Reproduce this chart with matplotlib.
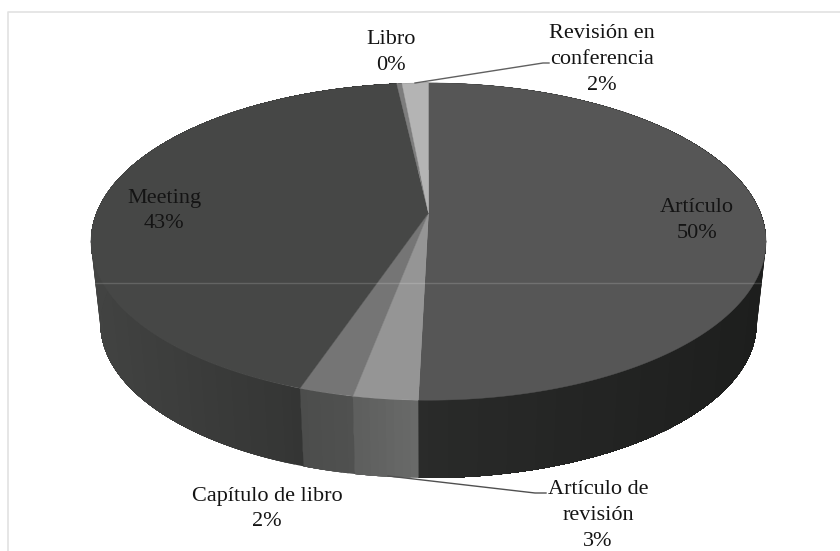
import matplotlib
matplotlib.use("Agg")
import matplotlib.pyplot as plt
import numpy as np

labels = ["Artículo", "Artículo de\nrevisión", "Capítulo de libro", "Meeting", "Libro", "Revisión en\nconferencia"]
values = [50.4, 2.6, 2.2, 43.0, 0.3, 1.5]
shown = ["50%", "3%", "2%", "43%", "0%", "2%"]

top_colors = ["#565656", "#959595", "#757575", "#464746", "#7d7d7d", "#b4b4b4"]
wall_left = ["#2a2b2a", "#5c5d5c", "#4c4d4c", "#424342", "#444444", "#555555"]
wall_right = ["#1d1e1d", "#696a69", "#505150", "#2e2f2e", "#444444", "#555555"]

label_x = [697, 598, 267, 164, 391, 602]
label_y = [220, 515, 509, 211, 53, 60]

# perspective of the pie, in pixels
cx, cy = 428.5, 213
A, B, k = 332, 153.5, 0.18
shrink, depth = 0.972, 83


def project(theta, bottom=False):
    # theta clockwise from the top of the pie
    u = np.sin(theta)
    v = np.cos(theta)
    w = 1 + k * v
    x = A * u / w
    y = B * v / w
    if bottom:
        x = x * shrink
        y = y * shrink - depth
    return cx + x, cy - y


def hex_rgb(c):
    return np.array(matplotlib.colors.to_rgb(c))


fig = plt.figure(figsize=(8.4, 5.51), dpi=100)
ax = fig.add_axes([0, 0, 1, 1])
ax.set_xlim(0, 840)
ax.set_ylim(551, 0)
ax.axis("off")

edges = np.cumsum([0] + values) / np.sum(values) * 2 * np.pi

# outer frame, only left and top show in the scan
ax.plot([7.5, 7.5, 840], [551, 12, 12], color="#e2e2e2", lw=1.2, zorder=1)

# walls: each step is painted from its start to the end of the slice, colour goes with x
for i in range(len(values)):
    cl = hex_rgb(wall_left[i])
    cr = hex_rgb(wall_right[i])
    n = max(8, int((edges[i + 1] - edges[i]) * 40))
    starts = np.linspace(edges[i], edges[i + 1], n + 1)[:-1]
    xs = project(np.linspace(edges[i], edges[i + 1], 200))[0]
    for j in range(n):
        t = np.linspace(starts[j], edges[i + 1], 150)
        xt, yt = project(t)
        xb, yb = project(t[::-1], bottom=True)
        f = (xt[0] - xs.min()) / (xs.max() - xs.min())
        ax.fill(np.r_[xt, xb], np.r_[yt, yb], color=cl + (cr - cl) * f, lw=0, zorder=2)

# top face
for i in range(len(values)):
    t = np.linspace(edges[i], edges[i + 1], 200)
    x, y = project(t)
    ax.fill(np.r_[cx, x], np.r_[cy, y], color=top_colors[i], lw=0.3, zorder=3)

# faint scan line across the pie
ax.plot([95, 762], [283, 283], color="#ffffff", alpha=0.16, lw=1, zorder=4)

# leader lines
ax.plot([415, 543, 549], [83, 63, 63], color="#606060", lw=1, zorder=4)
ax.plot([388, 535, 546], [476, 493, 493], color="#505050", lw=1, zorder=4)

for i in range(len(labels)):
    ax.text(label_x[i], label_y[i], labels[i] + "\n" + shown[i], ha="center", va="center",
            family="Liberation Serif", fontsize=16, color="#141414", linespacing=1.5, zorder=5)

fig.savefig("out.png", dpi=100)
